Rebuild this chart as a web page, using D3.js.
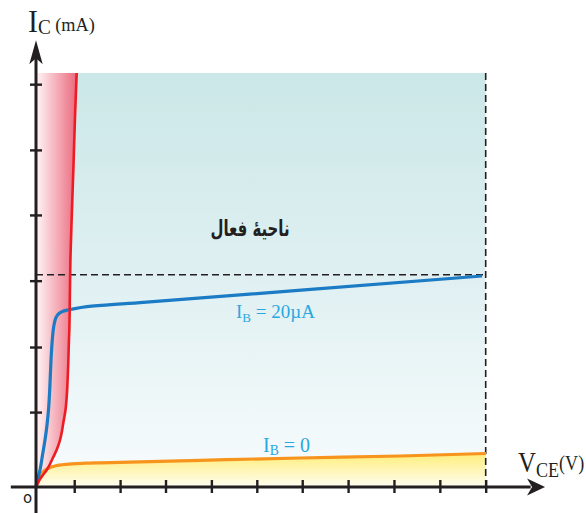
<!DOCTYPE html>
<html>
<head>
<meta charset="utf-8">
<script src="https://cdnjs.cloudflare.com/ajax/libs/d3/7.8.5/d3.min.js"></script>
<style>
  html, body { margin: 0; padding: 0; background: #ffffff; }
  svg { display: block; }
</style>
</head>
<body>
<div id="chart"></div>
<script>
// ---------------- data ----------------
// V_CE in volts (tick units), I_C in mA (tick units)
const xTicks = [0.85, 1.87, 2.88, 3.9, 4.91, 5.92, 6.94, 7.96, 8.98, 10];
const yTicks = [1.14, 2.13, 3.14, 4.14, 5.13, 6.13];
const vceMax = 10;      // dashed vertical limit
const icMax = 6.3;      // top of the shaded region
const icSat = 3.23;     // dashed horizontal level

// saturation boundary (red)
const satVce = [0, 0.044, 0.089, 0.156, 0.238, 0.311, 0.385, 0.467, 0.534, 0.578, 0.607, 0.656, 0.683, 0.703, 0.718, 0.729, 0.741, 0.752, 0.765, 0.796, 0.834, 0.869, 0.905];
const satIc  = [0, 0.061, 0.122, 0.183, 0.259, 0.350, 0.457, 0.578, 0.715, 0.852, 0.974, 1.172, 1.370, 1.629, 1.887, 2.161, 2.390, 2.846, 3.455, 4.140, 4.901, 5.662, 6.301];

// I_B = 20 µA (blue)
const ib20Vce = [0, 0.044, 0.089, 0.145, 0.200, 0.245, 0.278, 0.305, 0.334, 0.362, 0.396, 0.445, 0.511, 0.600, 0.690, 0.790, 1.134, 2.313, 9.918];
const ib20Ic  = [0, 0.137, 0.259, 0.487, 0.715, 0.944, 1.172, 1.476, 1.933, 2.237, 2.450, 2.580, 2.640, 2.674, 2.691, 2.705, 2.744, 2.805, 3.211];

// I_B = 0 (orange)
const ib0Vce = [0, 0.044, 0.089, 0.156, 0.238, 0.311, 0.423, 0.578, 0.801, 1.090, 1.423, 3.647, 5.871, 8.094, 10.007];
const ib0Ic  = [0, 0.076, 0.137, 0.228, 0.274, 0.297, 0.320, 0.338, 0.353, 0.362, 0.368, 0.406, 0.441, 0.472, 0.510];

const labels = {
  yAxis: ["I", "C", " (mA)"],
  xAxis: ["V", "CE", "(V)"],
  region: "ناحیۀ فعال",
  ib20: ["I", "B", " = 20µA"],
  ib0: ["I", "B", " = 0"],
  origin: "o"
};

// ---------------- drawing ----------------
const W = 586, H = 513;
const svg = d3.select("#chart").append("svg").attr("width", W).attr("height", H);

const x = d3.scaleLinear().domain([0, vceMax]).range([36, 485.7]);
const y = d3.scaleLinear().domain([0, icMax]).range([487, 73]);

const zip = (a, b) => a.map((v, i) => ({ x: v, y: b[i] }));
const sat = zip(satVce, satIc);
const ib20 = zip(ib20Vce, ib20Ic);
const ib0 = zip(ib0Vce, ib0Ic);

const defs = svg.append("defs");
const tealG = defs.append("linearGradient").attr("id", "teal")
  .attr("gradientUnits", "userSpaceOnUse").attr("x1", 0).attr("x2", 0)
  .attr("y1", y(icMax)).attr("y2", y(0));
tealG.append("stop").attr("offset", 0).attr("stop-color", "#cbe7e7");
tealG.append("stop").attr("offset", 0.5).attr("stop-color", "#e0f0f2");
tealG.append("stop").attr("offset", 1).attr("stop-color", "#f8fcfd");

const redG = defs.append("linearGradient").attr("id", "redfill")
  .attr("gradientUnits", "userSpaceOnUse").attr("y1", 0).attr("y2", 0)
  .attr("x1", x(0)).attr("x2", x(0.9));
redG.append("stop").attr("offset", 0).attr("stop-color", "#fff6f7");
redG.append("stop").attr("offset", 1).attr("stop-color", "#eb6a7e");

const yelG = defs.append("linearGradient").attr("id", "yel")
  .attr("gradientUnits", "userSpaceOnUse").attr("x1", 0).attr("x2", 0)
  .attr("y1", y(0.52)).attr("y2", y(0));
yelG.append("stop").attr("offset", 0).attr("stop-color", "#ffee78");
yelG.append("stop").attr("offset", 1).attr("stop-color", "#fffdf2");

// active region background
svg.append("rect")
  .attr("x", x(0)).attr("y", y(icMax))
  .attr("width", x(vceMax) - x(0)).attr("height", y(0) - y(icMax))
  .attr("fill", "url(#teal)");

// yellow under I_B = 0
svg.append("path").datum(ib0)
  .attr("d", d3.area().x(d => x(d.x)).y0(y(0)).y1(d => y(d.y)).curve(d3.curveMonotoneX))
  .attr("fill", "url(#yel)");

// red saturation region
svg.append("path").datum(sat)
  .attr("d", d3.area().y(d => y(d.y)).x0(x(0)).x1(d => x(d.x)).curve(d3.curveMonotoneY))
  .attr("fill", "url(#redfill)");

// dashed guides
svg.append("line")
  .attr("x1", x(vceMax)).attr("x2", x(vceMax)).attr("y1", y(icMax)).attr("y2", y(0))
  .attr("stroke", "#231f20").attr("stroke-width", 1.6).attr("stroke-dasharray", "7,4");
svg.append("line")
  .attr("x1", x(0)).attr("x2", x(vceMax)).attr("y1", y(icSat)).attr("y2", y(icSat))
  .attr("stroke", "#231f20").attr("stroke-width", 1.4).attr("stroke-dasharray", "7,4");

// curves
svg.append("path").datum(ib0)
  .attr("d", d3.line().x(d => x(d.x)).y(d => y(d.y)).curve(d3.curveMonotoneX))
  .attr("fill", "none").attr("stroke", "#f7941d").attr("stroke-width", 3.2);
svg.append("path").datum(ib20)
  .attr("d", d3.line().x(d => x(d.x)).y(d => y(d.y)).curve(d3.curveCatmullRom.alpha(0.5)))
  .attr("fill", "none").attr("stroke", "#1b7bc4").attr("stroke-width", 3.2);
svg.append("path").datum(sat)
  .attr("d", d3.line().x(d => x(d.x)).y(d => y(d.y)).curve(d3.curveMonotoneY))
  .attr("fill", "none").attr("stroke", "#ed1c24").attr("stroke-width", 2.6);

// axes lines
const ink = "#231f20";
svg.append("line")
  .attr("x1", x(0)).attr("x2", x(0)).attr("y1", y(-0.4)).attr("y2", y(6.55))
  .attr("stroke", ink).attr("stroke-width", 3);
svg.append("line")
  .attr("x1", x(-0.56)).attr("x2", x(11.0)).attr("y1", y(0)).attr("y2", y(0))
  .attr("stroke", ink).attr("stroke-width", 3);

// ticks via d3 axes
const gx = svg.append("g")
  .attr("transform", `translate(0,${y(0) - 7})`)
  .call(d3.axisBottom(x).tickValues(xTicks).tickSize(13).tickFormat(""));
gx.select(".domain").remove();
gx.selectAll(".tick line").attr("stroke", ink).attr("stroke-width", 2.4);

const gy = svg.append("g")
  .attr("transform", `translate(${x(0) + 6},0)`)
  .call(d3.axisLeft(y).tickValues(yTicks).tickSize(12).tickFormat(""));
gy.select(".domain").remove();
gy.selectAll(".tick line").attr("stroke", ink).attr("stroke-width", 2.4);

// arrowheads
const yTipX = x(0), yTipY = y(6.8);
svg.append("path")
  .attr("d", `M${yTipX},${yTipY} L${yTipX + 6.7},${yTipY + 24} L${yTipX},${yTipY + 18} L${yTipX - 6.7},${yTipY + 24} Z`)
  .attr("fill", ink);
const xTipX = x(11.32), xTipY = y(0);
svg.append("path")
  .attr("d", `M${xTipX},${xTipY} L${xTipX - 18},${xTipY - 8.5} L${xTipX - 13},${xTipY} L${xTipX - 18},${xTipY + 8.5} Z`)
  .attr("fill", ink);

// ---------------- texts ----------------
const serif = "'Liberation Serif', 'Times New Roman', serif";

function subLabel(parts, tx, ty, sx, fsMain, fsSub, fsTail, dSub, dTail, color) {
  const t = svg.append("text")
    .attr("transform", `translate(${tx},${ty}) scale(${sx},1)`)
    .attr("font-family", serif).attr("font-size", fsMain).attr("fill", color);
  t.append("tspan").text(parts[0]);
  t.append("tspan").attr("font-size", fsSub).attr("dy", dSub).text(parts[1]);
  t.append("tspan").attr("font-size", fsTail).attr("dy", dTail).text(parts[2]);
  return t;
}

// I_C (mA)
subLabel(labels.yAxis, 28, 32, 0.96, 31, 20, 19, 2, -3, ink);
// V_CE(V)
subLabel(labels.xAxis, 518, 471.5, 0.86, 29, 21, 21, 5.5, -7, ink);

// region label (Persian)
svg.append("text")
  .attr("transform", "translate(250,236) scale(0.68,1)")
  .attr("font-family", "'DejaVu Sans', 'Noto Sans', sans-serif").attr("font-weight", "bold")
  .attr("font-size", 22).attr("text-anchor", "middle").attr("fill", ink)
  .attr("direction", "rtl")
  .text(labels.region);

// curve labels
const cyan = "#29a8e0";
subLabel(labels.ib20, 236, 318, 1, 19, 13, 19, 3.5, -3.5, cyan);
subLabel(labels.ib0, 263, 451.5, 1, 20, 13.6, 20, 3.5, -3.5, cyan);

// origin label
svg.append("text").attr("x", 27.5).attr("y", 502.5).attr("text-anchor", "middle")
  .attr("font-family", "'DejaVu Sans', sans-serif").attr("font-size", 15).attr("fill", ink)
  .text(labels.origin);
</script>
</body>
</html>
